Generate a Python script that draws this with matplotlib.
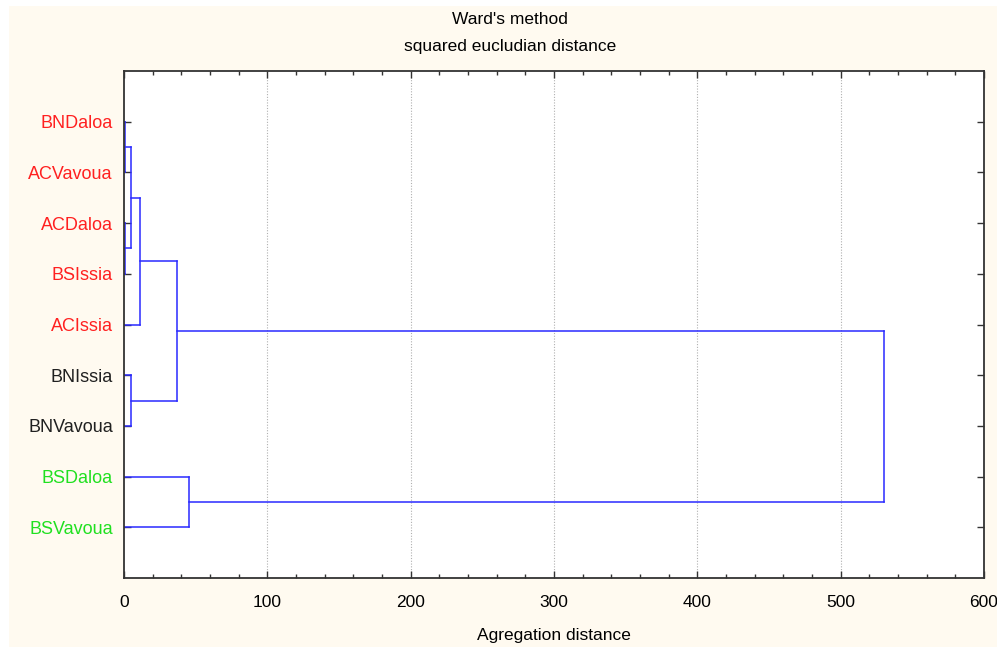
import matplotlib.pyplot as plt
from matplotlib.patches import Rectangle

# hojas de arriba hacia abajo, con su color de etiqueta
leaves = ["BNDaloa", "ACVavoua", "ACDaloa", "BSIssia", "ACIssia",
          "BNIssia", "BNVavoua", "BSDaloa", "BSVavoua"]
leaf_colors = ["#ff2020", "#ff2020", "#ff2020", "#ff2020", "#ff2020",
               "#202020", "#202020", "#20e020", "#20e020"]

# uniones (nodo a, nodo b, distancia); nodos nuevos numerados desde 9
merges = [
    (2, 3, 0.8),     # 9  ACDaloa + BSIssia
    (0, 1, 1.0),     # 10 BNDaloa + ACVavoua
    (10, 9, 5.1),    # 11
    (5, 6, 5.1),     # 12 BNIssia + BNVavoua
    (11, 4, 11.0),   # 13 + ACIssia
    (13, 12, 37.0),  # 14
    (7, 8, 45.5),    # 15 BSDaloa + BSVavoua
    (14, 15, 530.0), # 16
]

xticks = [0, 100, 200, 300, 400, 500, 600]


def draw_tree(ax):
    # posición y altura de cada nodo
    pos = {i: i + 1 for i in range(len(leaves))}
    height = {i: 0.0 for i in range(len(leaves))}
    for k, (a, b, d) in enumerate(merges):
        node = len(leaves) + k
        ya, yb = pos[a], pos[b]
        ax.plot([height[a], d], [ya, ya], color="#2a2aff", lw=1.1)
        ax.plot([height[b], d], [yb, yb], color="#2a2aff", lw=1.1)
        ax.plot([d, d], [ya, yb], color="#2a2aff", lw=1.1)
        pos[node] = (ya + yb) / 2
        height[node] = d


fig = plt.figure(figsize=(9.97, 6.47), dpi=100, facecolor="white")
fig.patches.append(Rectangle((9 / 997, 0), 1, 1 - 6 / 647, transform=fig.transFigure,
                             facecolor="#fffaf0", edgecolor="none", zorder=-10))

ax = fig.add_axes([124 / 997, 1 - 578 / 647, 860 / 997, 507 / 647])
ax.set_facecolor("white")
draw_tree(ax)

ax.set_xlim(0, 600)
ax.set_ylim(10, 0)
ax.set_xticks(xticks)
ax.set_xticks(range(0, 601, 20), minor=True)
ax.set_xticklabels([str(t) for t in xticks], fontsize=12.5, family="Liberation Sans")
ax.set_yticks(range(1, len(leaves) + 1))
ax.set_yticklabels(leaves, fontsize=13, family="Liberation Sans")
for lbl, c in zip(ax.get_yticklabels(), leaf_colors):
    lbl.set_color(c)

ax.tick_params(axis="both", which="both", direction="in", top=True, right=True,
               color="#333333", width=1.0)
ax.tick_params(axis="x", which="major", length=5, pad=12)
ax.tick_params(axis="x", which="minor", length=3)
ax.tick_params(axis="y", length=5, pad=8)
for s in ax.spines.values():
    s.set_color("#333333")
    s.set_linewidth(1.3)

for t in xticks[1:-1]:
    ax.axvline(t, color="#b0b0b0", lw=0.8, ls=(0, (1, 1.5)), zorder=0)

ax.set_xlabel("Agregation distance", fontsize=12.5, family="Liberation Sans", labelpad=13)

fig.text(510 / 997, 1 - 20 / 647, "Ward's method", ha="center", va="center",
         fontsize=12.5, family="Liberation Sans")
fig.text(510 / 997, 1 - 47 / 647, "squared eucludian distance", ha="center", va="center",
         fontsize=12.5, family="Liberation Sans")

fig.savefig("out.png", dpi=100, facecolor=fig.get_facecolor())
